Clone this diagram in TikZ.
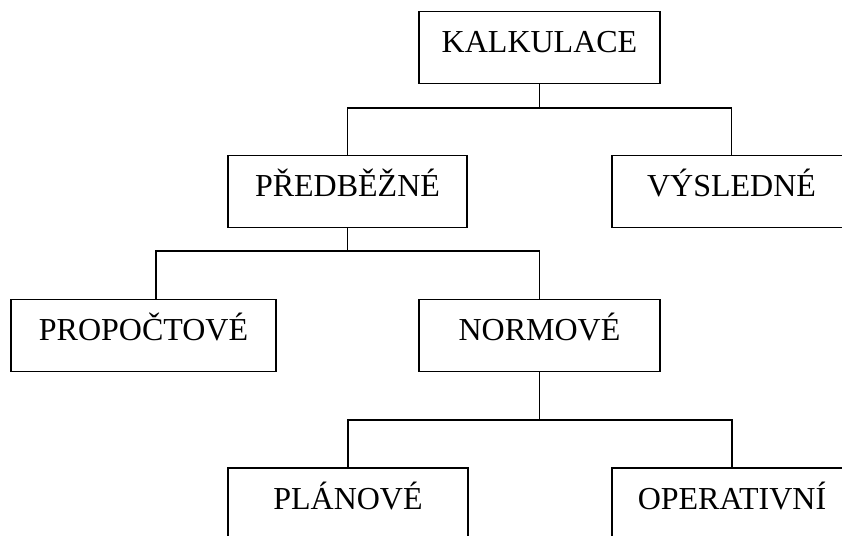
\documentclass[tikz,border=0pt]{standalone}
\usepackage{fontspec}
\setmainfont{Liberation Serif}
\usepackage{tikz}

\tikzset{
  box/.style={draw=black,line width=1.5pt,rectangle,inner sep=0pt,
    text height=41pt,text depth=31pt,align=center,
    font=\fontsize{32pt}{36pt}\selectfont},
  conn/.style={draw=black,line width=1.2pt}
}

\begin{document}
\begin{tikzpicture}[line cap=rect,line join=miter,x=1pt,y=-1pt]
\useasboundingbox (0,0) rectangle (842,535);
\clip (0,0) rectangle (842,535);
% boxes
\node[box,minimum width=241pt] (kalk) at (539.5,47.5) {KALKULACE};
\node[box,minimum width=239pt] (pred) at (347.5,191.5) {PŘEDBĚŽNÉ};
\node[box,minimum width=239pt] (vysl) at (731.5,191.5) {VÝSLEDNÉ};
\node[box,minimum width=265pt] (prop) at (143.5,335.5) {PROPOČTOVÉ};
\node[box,minimum width=241pt] (norm) at (539.5,335.5) {NORMOVÉ};
\node[box,minimum width=240pt] (plan) at (348,504) {PLÁNOVÉ};
\node[box,minimum width=240pt] (oper) at (732,504) {OPERATIVNÍ};
% bus points
\coordinate (b1) at (539.5,108);
\coordinate (b2) at (156,251);
\coordinate (b3) at (539.5,420);
% connectors
\draw[conn] (kalk.south)-- (b1);
\draw[conn] (pred.north) |- (b1) -| (vysl.north);
\draw[conn] (pred.south)-- (pred.south |- b2);
\draw[conn] (b2 |- prop.north)-- (b2) -| (norm.north);
\draw[conn] (norm.south)-- (b3);
\draw[conn] (plan.north) |- (b3) -| (oper.north);
\end{tikzpicture}
\end{document}
